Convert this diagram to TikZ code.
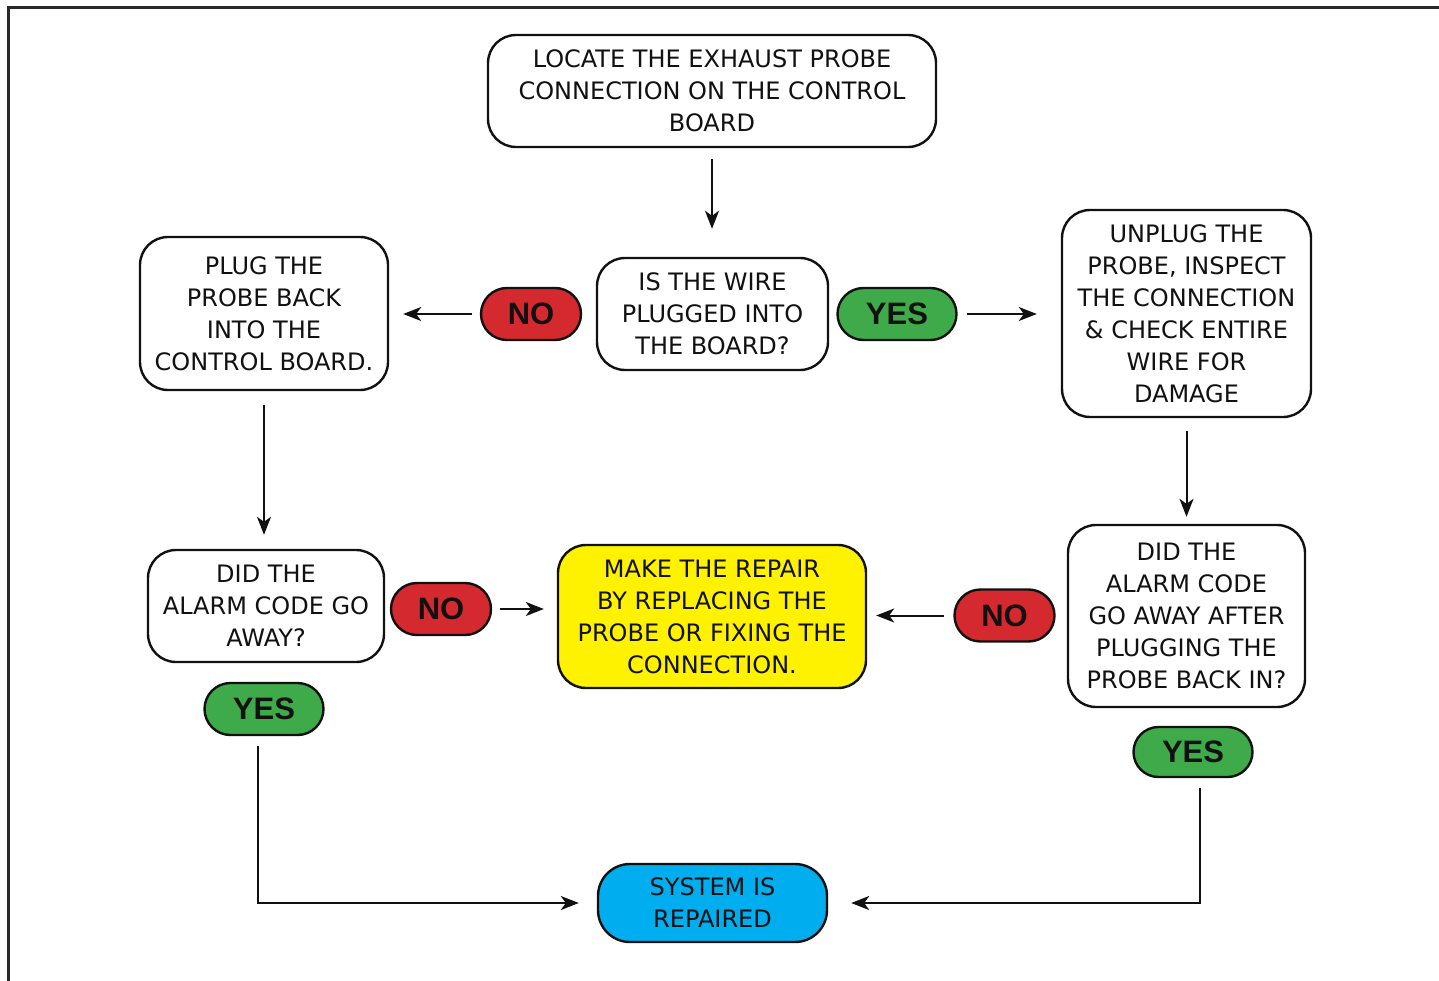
\documentclass[tikz,border=0pt]{standalone}
\usepackage{fontspec}
\setmainfont{DejaVu Sans}
\newfontfamily\yesnofont{Liberation Sans}
\usetikzlibrary{arrows.meta}
\definecolor{nored}{HTML}{D42A2F}
\definecolor{yesgreen}{HTML}{3FAA4A}
\definecolor{repyellow}{HTML}{FFF200}
\definecolor{donecyan}{HTML}{00AEEF}
\definecolor{ink}{HTML}{111111}
\tikzset{
  box/.style={draw=ink, line width=2.4pt, rounded corners=28pt, fill=white,
    align=center, text=ink, inner sep=0pt,
    font=\fontsize{24}{32}\selectfont},
  pill/.style={draw=ink, line width=2.4pt, rounded corners=26pt,
    minimum width=100pt, minimum height=52pt, inner sep=0pt, text=ink,
    font=\yesnofont\bfseries\fontsize{31}{31}\selectfont},
  nopill/.style={pill, fill=nored},
  yespill/.style={pill, fill=yesgreen, minimum width=119pt},
  arr/.style={draw=ink, line width=2pt, -{Stealth[length=18pt,width=14pt,inset=5pt]}},
  frame/.style={draw=ink!90, line width=3pt}
}
\begin{document}
\begin{tikzpicture}[x=1pt,y=-1pt]
\useasboundingbox (0,0) rectangle (1439,981);
\draw[frame] (8,981) -- (8,8) -- (1439,8);

\node[box, minimum width=448pt, minimum height=112pt] (A) at (712,91)
  {LOCATE THE EXHAUST PROBE\\CONNECTION ON THE CONTROL\\BOARD};
\node[box, minimum width=231pt, minimum height=112pt] (B) at (712.5,314)
  {IS THE WIRE\\PLUGGED INTO\\THE BOARD?};
\node[nopill] (noB) at (531,314) {NO};
\node[box, minimum width=248pt, minimum height=153pt] (C) at (264,313.5)
  {PLUG THE\\PROBE BACK\\INTO THE\\CONTROL BOARD.};
\node[yespill] (yesB) at (897,314) {YES};
\node[box, minimum width=249pt, minimum height=207pt] (D) at (1186.5,313.5)
  {UNPLUG THE\\PROBE, INSPECT\\THE CONNECTION\\\& CHECK ENTIRE\\WIRE FOR\\DAMAGE};
\node[box, minimum width=236pt, minimum height=112pt] (E) at (266,606)
  {DID THE\\ALARM CODE GO\\AWAY?};
\node[nopill] (noE) at (441,609) {NO};
\node[box, fill=repyellow, minimum width=308pt, minimum height=143pt] (F) at (712,616.5)
  {MAKE THE REPAIR\\BY REPLACING THE\\PROBE OR FIXING THE\\CONNECTION.};
\node[box, minimum width=237pt, minimum height=182pt] (G) at (1186.5,616)
  {DID THE\\ALARM CODE\\GO AWAY AFTER\\PLUGGING THE\\PROBE BACK IN?};
\node[nopill] (noG) at (1004.5,615.5) {NO};
\node[yespill] (yesE) at (264,709) {YES};
\node[yespill, minimum height=50pt, rounded corners=25pt] (yesG) at (1193,752) {YES};
\node[box, fill=donecyan, rounded corners=32pt, minimum width=229pt, minimum height=78pt] (H) at (712.5,903)
  {SYSTEM IS\\REPAIRED};

\draw[arr] ([yshift=-11pt]A.south) -- ([yshift=28pt]A.south |- B.north);
\draw[arr] ([xshift=-8pt]noB.west) -- ([xshift=14pt]noB.west -| C.east);
\draw[arr] ([xshift=9pt]yesB.east) -- ([xshift=-24pt]yesB.east -| D.west);
\draw[arr] ([yshift=-14pt]C.south) -- ([yshift=14pt]C.south |- E.north);
\draw[arr] ([xshift=8pt]noE.east) -- ([xshift=-13pt]noE.east -| F.west);
\draw[arr] ([yshift=-13pt]D.south) -- ([yshift=7pt]D.south |- G.north);
\draw[arr] ([xshift=-9pt]noG.west) -- ([xshift=9pt]noG.west -| F.east);
\coordinate (yEs) at ([xshift=-6pt,yshift=-10pt]yesE.south);
\coordinate (yGs) at ([xshift=7pt,yshift=-10pt]yesG.south);
\draw[arr] (yEs) |- ([xshift=-18pt]H.west);
\draw[arr] (yGs) |- ([xshift=23pt]H.east);
\end{tikzpicture}
\end{document}
